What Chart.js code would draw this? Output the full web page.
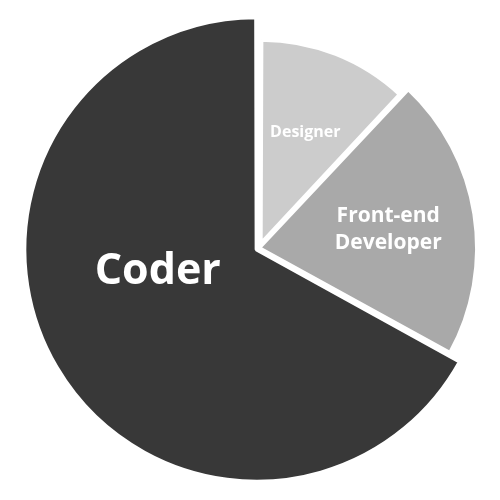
<!DOCTYPE html>
<html>
<head>
<meta charset="utf-8">
<script src="https://cdn.jsdelivr.net/npm/chart.js@4/dist/chart.umd.min.js"></script>
<style>
  html, body { margin: 0; padding: 0; background: #ffffff; }
  #wrap { width: 500px; height: 500px; }
</style>
</head>
<body>
<div id="wrap"><canvas id="c" width="500" height="500"></canvas></div>
<script>
// ---- data ----
const roles = ['Designer', 'Front-end\nDeveloper', 'Coder'];
const shares = [12, 21, 67];          // percent of the pie (slice angle)
const emphasis = [87, 95, 100];       // slice reach (radial value)
const sliceColors = ['#cccccc', '#a9a9a9', '#383838'];

// ---- label placement (style) ----
const labelStyle = [
  { size: 16, frac: 0.63 },
  { size: 21, frac: 0.60, lineGap: 27 },
  { size: 43, frac: 0.45, angleDeg: 168.6 }
];

const sliceLabels = {
  id: 'sliceLabels',
  afterDatasetsDraw(chart) {
    const ctx = chart.ctx;
    const meta = chart.getDatasetMeta(0);
    meta.data.forEach((arc, i) => {
      const p = arc.getProps(['x', 'y', 'startAngle', 'endAngle', 'outerRadius'], true);
      const st = labelStyle[i];
      const ang = st.angleDeg !== undefined ? st.angleDeg * Math.PI / 180 : (p.startAngle + p.endAngle) / 2;
      const r = p.outerRadius * st.frac;
      const cx = p.x + Math.cos(ang) * r;
      const cy = p.y + Math.sin(ang) * r;
      const lines = roles[i].split('\n');
      const gap = st.lineGap || st.size * 1.2;
      ctx.save();
      ctx.fillStyle = '#ffffff';
      ctx.textAlign = 'center';
      ctx.textBaseline = 'alphabetic';
      ctx.font = '700 ' + st.size + 'px "Open Sans", sans-serif';
      const cap = st.size * 0.72;
      const blockH = cap + gap * (lines.length - 1);
      lines.forEach((ln, k) => {
        const base = cy - blockH / 2 + cap + k * gap;
        ctx.fillText(ln, cx, base);
      });
      ctx.restore();
    });
  }
};

new Chart(document.getElementById('c'), {
  type: 'polarArea',
  data: {
    labels: roles,
    datasets: [{
      data: emphasis,
      backgroundColor: sliceColors,
      borderColor: '#ffffff',
      borderWidth: 4,
      angle: (c) => shares[c.dataIndex] * 3.6,
      offset: [18, 0, 11]
    }]
  },
  options: {
    responsive: false,
    animation: false,
    layout: { padding: { left: 18, right: 0, top: 0, bottom: 4 } },
    scales: {
      r: { display: false, min: 0, max: 105 }
    },
    plugins: {
      legend: { display: false },
      tooltip: { enabled: false }
    }
  },
  plugins: [sliceLabels]
});
</script>
</body>
</html>
